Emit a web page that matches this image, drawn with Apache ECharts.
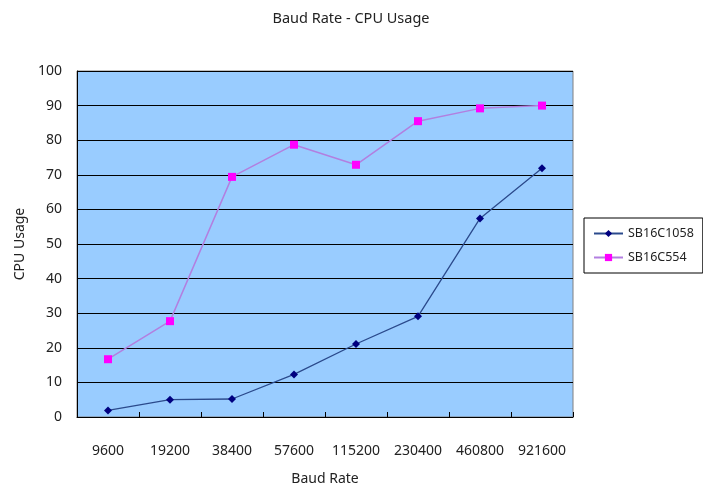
<!DOCTYPE html>
<html><head><meta charset="utf-8">
<script src="https://cdn.jsdelivr.net/npm/echarts@6/dist/echarts.min.js"></script>
<style>html,body{margin:0;padding:0;background:#fff}#c{width:703px;height:485px}</style>
</head><body><div id="c"></div>
<script>
const categories = ['9600','19200','38400','57600','115200','230400','460800','921600'];
const sb16c1058 = [1.9, 5.0, 5.2, 12.3, 21.1, 29.1, 57.4, 71.9];
const sb16c554 = [16.7, 27.7, 69.4, 78.7, 72.9, 85.5, 89.2, 90.0];
const yTicks = [0,10,20,30,40,50,60,70,80,90,100];

const FONT = 'Noto Sans';
const chart = echarts.init(document.getElementById('c'));
chart.setOption({
  backgroundColor: '#fff',
  animation: false,
  title: {
    text: 'Baud Rate - CPU Usage', left: 346, top: 6, textAlign: 'center',
    textStyle: {fontFamily: FONT, fontSize: 14.5, fontWeight: 'normal', color: '#222'}
  },
  legend: {
    orient: 'vertical', left: 584, top: 218, itemGap: 11,
    borderColor: '#000', borderWidth: 1, padding: [9, 9, 9, 9],
    itemWidth: 29, itemHeight: 9,
    textStyle: {fontFamily: FONT, fontSize: 12.5, color: '#222'},
    data: ['SB16C1058', 'SB16C554']
  },
  grid: {left: 77, right: 130, top: 71, bottom: 68, show: true,
    outerBoundsMode: 'none', containLabel: false,
    backgroundColor: '#99CCFF', borderColor: '#808080', borderWidth: 1},
  xAxis: {
    type: 'category', data: categories, boundaryGap: true,
    name: 'Baud Rate', nameLocation: 'middle', nameGap: 55,
    nameTextStyle: {fontFamily: FONT, fontSize: 14, color: '#222'},
    axisLine: {lineStyle: {color: '#000', width: 1}},
    axisTick: {show: true, length: 5, inside: true, lineStyle: {color: '#000'}},
    axisLabel: {fontFamily: FONT, fontSize: 14, color: '#222', margin: 27, interval: 0},
    splitLine: {show: false}
  },
  yAxis: {
    type: 'value', min: 0, max: 100, interval: 10,
    name: 'CPU Usage', nameLocation: 'middle', nameGap: 48,
    nameTextStyle: {fontFamily: FONT, fontSize: 14, color: '#222'},
    axisLine: {show: true, lineStyle: {color: '#000', width: 1}},
    axisTick: {show: false},
    axisLabel: {fontFamily: FONT, fontSize: 14, color: '#222', margin: 15},
    splitLine: {show: true, lineStyle: {color: '#000', width: 1}}
  },
  series: [
    {name: 'SB16C1058', type: 'line', data: sb16c1058,
     symbol: 'diamond', symbolSize: 8, showAllSymbol: true,
     itemStyle: {color: '#000080'}, lineStyle: {color: '#2B4A8C', width: 1.3}},
    {name: 'SB16C554', type: 'line', data: sb16c554,
     symbol: 'rect', symbolSize: 8, showAllSymbol: true,
     itemStyle: {color: '#FF00FF'}, lineStyle: {color: '#B27FE0', width: 1.5}}
  ]
});
</script></body></html>
